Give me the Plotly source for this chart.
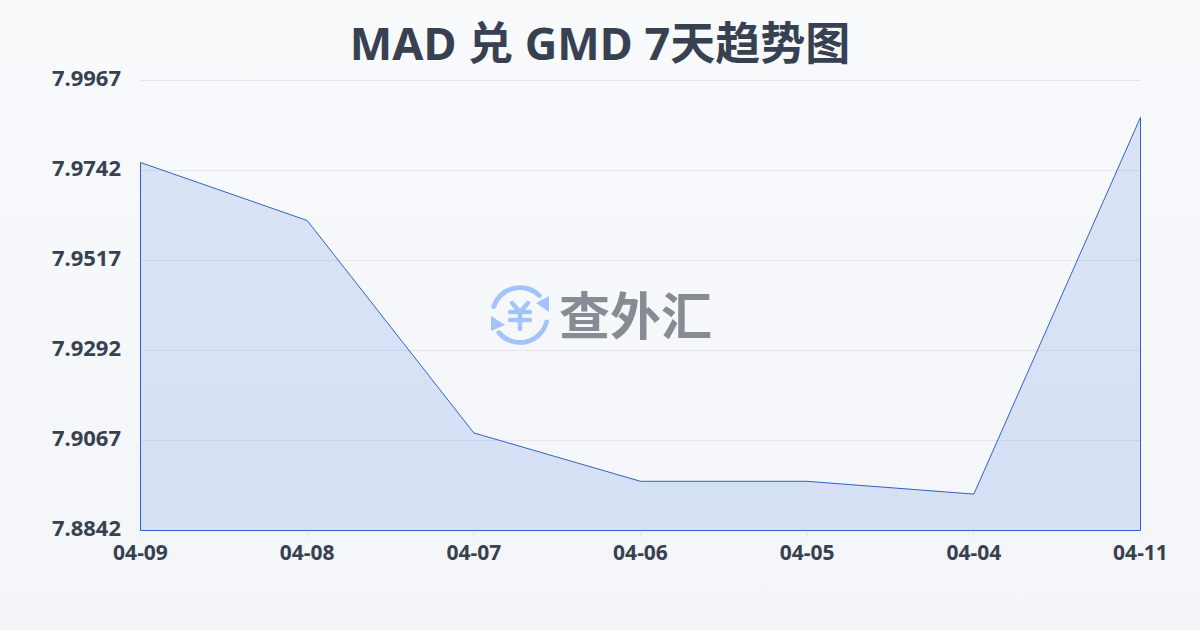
import base64
import plotly.graph_objects as go

dates = ["04-09", "04-08", "04-07", "04-06", "04-05", "04-04", "04-11"]
rates = [7.9762, 7.9617, 7.9086, 7.8965, 7.8965, 7.8933, 7.9875]
y_ticks = [7.8842, 7.9067, 7.9292, 7.9517, 7.9742, 7.9967]
title = "MAD 兑 GMD 7天趋势图"
brand = "查外汇"


def uri(svg):
    return "data:image/svg+xml;base64," + base64.b64encode(svg.encode()).decode()


bg_svg = ('<svg xmlns="http://www.w3.org/2000/svg" width="1200" height="630" preserveAspectRatio="none">'
          '<defs><linearGradient id="g" x1="0" y1="0" x2="0" y2="1">'
          '<stop offset="0" stop-color="#f9fafc"/><stop offset="1" stop-color="#f3f5f8"/>'
          '</linearGradient></defs><rect width="1200" height="630" fill="url(#g)"/></svg>')

icon_svg = ('<svg xmlns="http://www.w3.org/2000/svg" width="62" height="62" viewBox="0 0 62 62">'
            '<g fill="none" stroke="#a3c4fa" stroke-width="4.8" stroke-linecap="round" stroke-linejoin="round">'
            '<path d="M4.8 21.6 A27.5 27.5 0 0 1 50.4 10.6"/>'
            '<path d="M9.9 47.6 A27.5 27.5 0 0 0 57.6 36.9"/>'
            '<path stroke-width="4.4" d="M23 18 L31 27 L39 18 M31 27 L31 44 M21 27 L41 27 M21 35 L41 35"/>'
            '</g>'
            '<path d="M47 18 L60 11 L60 27 Z" fill="#a3c4fa"/>'
            '<path d="M2 31 L16 40 L2 46 Z" fill="#a3c4fa"/>'
            '</svg>')

base = min(y_ticks)
xs = dates + [dates[-1], dates[0], dates[0]]
ys = rates + [base, base, rates[0]]

fig = go.Figure(go.Scatter(
    x=xs, y=ys, mode="lines", fill="toself",
    line=dict(color="#2f63c6", width=1),
    fillcolor="rgba(60,110,225,0.155)", hoverinfo="skip", cliponaxis=False,
))

# plot box 1001x451: half a pixel of padding keeps the outline crisp on whole pixels
half_x = 0.5 * 6 / 1000
half_y = 0.5 * (y_ticks[-1] - y_ticks[0]) / 450
fig.update_layout(
    width=1200, height=630, showlegend=False,
    margin=dict(l=140, r=59, t=80, b=99),
    paper_bgcolor="rgba(0,0,0,0)", plot_bgcolor="rgba(0,0,0,0)",
    title=dict(text=title, x=0.5, xanchor="center", y=1 - 44 / 630, yanchor="middle",
               font=dict(family="Noto Sans, Noto Sans CJK SC", size=45, color="#374151", weight=700)),
    xaxis=dict(type="category", categoryorder="array", categoryarray=dates, range=[-half_x, 6 + half_x],
               tickmode="array", tickvals=dates, ticks="outside", ticklen=6, tickwidth=1, tickcolor="#e5e7eb",
               tickfont=dict(family="Noto Sans", size=21, color="#374151", weight=700),
               ticklabelstandoff=-3, showgrid=False, showline=False, zeroline=False),
    yaxis=dict(range=[y_ticks[0] - half_y, y_ticks[-1] + half_y], tickmode="array", tickvals=y_ticks,
               ticktext=[f"{v:.4f}" for v in y_ticks],
               tickfont=dict(family="Noto Sans", size=22, color="#374151", weight=700),
               gridcolor="#e5e7eb", gridwidth=1, showline=False, zeroline=False, ticks="", ticklabelstandoff=18,
               ticklabelshift=-2),
    shapes=[dict(type="line", xref="paper", yref="y", x0=0, x1=1, y0=y_ticks[-1], y1=y_ticks[-1],
                 line=dict(color="#e5e7eb", width=1), layer="above")],
    images=[
        dict(source=uri(bg_svg), xref="paper", yref="paper", x=-140/1001, y=1+80/451, sizex=1200/1001, sizey=630/451,
             xanchor="left", yanchor="top", sizing="stretch", layer="below"),
        dict(source=uri(icon_svg), xref="paper", yref="paper", x=(489-140)/1001, y=(531-285)/451, sizex=62/1001, sizey=62/451,
             xanchor="left", yanchor="top", sizing="stretch", layer="above"),
    ],
    annotations=[dict(text=brand, xref="paper", yref="paper", x=(635.5-140)/1001, y=(531-313)/451,
                      xanchor="center", yanchor="middle", showarrow=False,
                      font=dict(family="Noto Sans CJK SC", size=51, color="#868b94", weight=700))],
)
fig.write_html("out.html", config={"displayModeBar": False},
               post_script="document.body.style.margin='0';document.body.style.overflow='hidden';")
